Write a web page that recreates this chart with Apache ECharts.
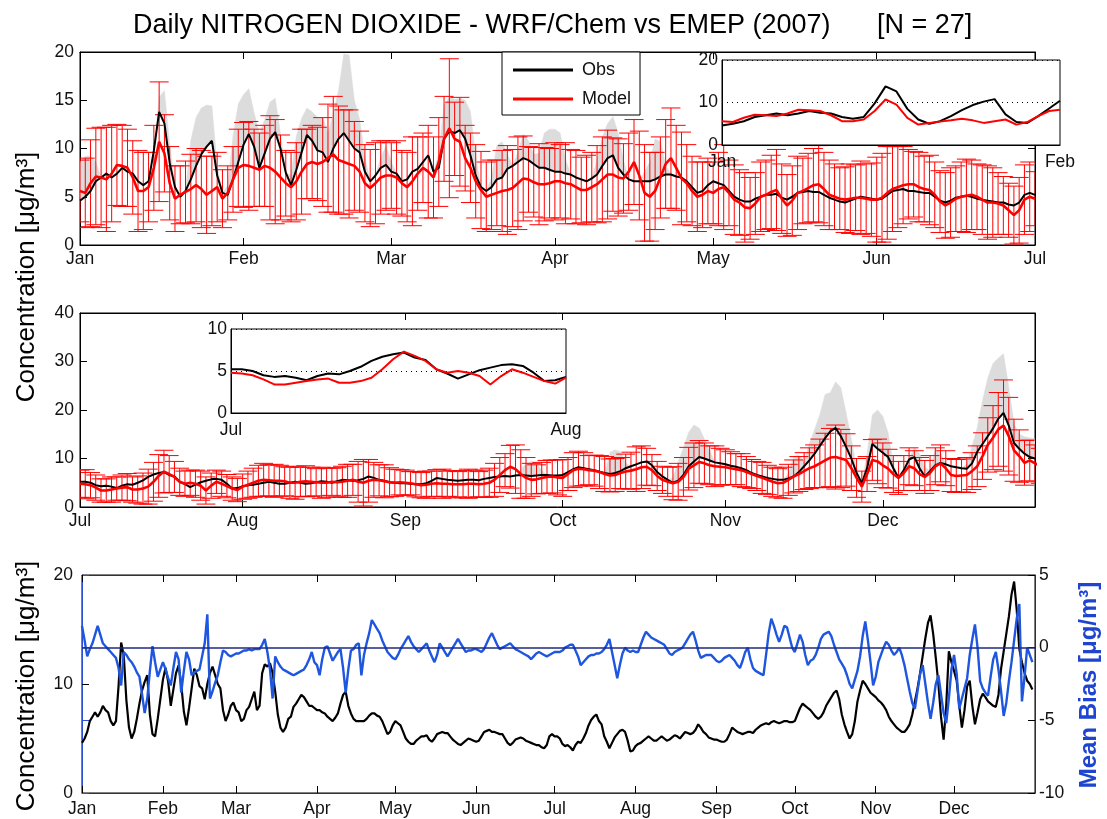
<!DOCTYPE html>
<html><head><meta charset="utf-8">
<script src="https://cdn.jsdelivr.net/npm/echarts@6/dist/echarts.min.js"></script>
<style>html,body{margin:0;padding:0;background:#fff}#c{width:1107px;height:819px}</style>
</head><body><div id="c"></div>
<script>
const FONT = "'Liberation Sans', Arial, Helvetica, sans-serif";

// ---- daily observed mean NO2 (Jan 1 .. Dec 31, 2007) ----
const obs = [
 // Jan
 4.6,5.0,5.6,6.6,7.0,7.4,7.0,7.4,8.0,7.6,7.4,6.6,6.2,6.6,9.8,13.8,12.6,8.5,6.0,5.0,5.6,6.8,8.2,9.4,10.2,10.8,7.2,5.4,5.2,6.8,8.6,
 // Feb
 10.4,11.5,10.2,8.0,9.5,11.0,11.7,10.0,7.5,6.2,7.8,9.6,11.4,10.8,9.8,9.6,8.6,10.0,11.0,11.6,10.8,10.0,9.6,7.6,6.6,7.2,8.0,8.3,
 // Mar
 7.6,7.4,6.6,6.8,7.6,7.9,8.6,9.3,7.6,8.0,11.0,11.8,11.6,11.9,11.0,9.3,7.2,6.0,5.6,6.0,6.8,7.0,7.9,8.2,8.6,9.0,8.8,8.4,8.0,8.0,7.8,
 // Apr
 7.6,7.6,7.4,7.3,7.0,6.8,6.6,6.9,7.3,8.2,9.0,9.3,8.0,7.3,6.8,6.6,6.6,6.6,6.6,6.8,7.1,7.3,7.3,7.1,7.0,6.6,6.0,5.4,5.6,6.2,
 // May
 6.6,6.4,6.2,5.6,5.0,4.7,4.5,4.5,4.8,5.0,5.2,5.2,5.3,4.9,4.7,5.0,5.4,5.5,5.6,5.5,5.5,5.2,4.9,4.7,4.5,4.4,4.6,4.8,5.0,4.9,4.8,
 // Jun
 4.7,4.8,5.2,5.6,5.7,5.8,5.6,5.6,5.5,5.4,5.4,5.0,4.6,4.4,4.6,4.9,5.0,5.1,5.0,4.8,4.7,4.6,4.5,4.4,4.4,4.2,4.1,4.4,5.2,5.4,
 // Jul
 5.2,5.2,5.0,4.5,4.3,4.4,4.2,3.9,4.4,4.7,4.6,5.0,5.5,6.2,6.7,7.0,7.2,6.6,6.3,5.2,4.7,4.1,4.6,5.1,5.4,5.7,5.8,5.6,4.8,3.8,3.9,
 // Aug
 4.3,4.5,4.6,4.8,5.0,5.2,5.0,4.8,4.8,5.0,5.2,5.0,4.8,4.9,5.1,5.3,5.2,5.0,5.3,5.6,5.5,5.4,5.5,5.8,6.3,6.0,5.6,5.4,5.1,5.0,4.9,
 // Sep
 4.9,4.8,4.7,4.7,4.9,5.4,6.0,5.8,5.6,5.5,5.4,5.5,5.6,5.6,5.5,5.8,6.0,6.2,6.3,6.4,6.3,6.5,6.6,6.5,6.4,6.5,6.6,6.6,6.5,6.5,
 // Oct
 6.6,7.2,7.8,8.2,8.0,7.8,7.6,7.3,7.0,6.8,7.0,7.4,8.0,8.4,8.8,9.2,9.4,8.6,7.2,6.3,5.6,5.0,5.4,6.6,8.4,9.4,10.3,10.0,9.6,9.2,9.0,
 // Nov
 8.8,8.5,8.3,8.0,7.6,7.0,6.6,6.3,6.0,5.8,5.6,5.6,5.9,6.3,7.2,8.4,9.6,11.0,12.6,14.2,15.6,16.3,14.6,12.4,10.0,7.0,4.9,8.0,13.0,12.0,
 // Dec
 11.2,10.3,8.0,6.0,7.6,9.8,10.3,8.0,6.3,7.4,8.6,9.1,8.8,8.4,8.2,8.0,7.9,9.0,11.4,13.0,14.6,16.2,18.2,19.4,16.8,13.2,12.0,11.0,10.3,10.0,9.5
];

// ---- daily modelled mean NO2 ----
const model = [
 // Jan
 5.6,5.4,6.4,7.1,7.0,6.8,7.4,8.3,8.2,8.0,7.0,5.6,5.6,6.0,8.0,10.7,9.5,6.4,4.8,5.2,5.5,5.8,6.2,5.8,5.2,5.6,6.0,4.8,5.4,6.8,8.0,
 // Feb
 8.3,8.2,8.0,7.8,8.2,8.0,7.6,7.0,6.4,6.0,6.6,7.6,8.4,8.6,8.4,8.6,9.0,9.4,8.8,8.6,8.4,8.2,7.6,6.4,5.9,6.4,7.0,7.2,
 // Mar
 7.2,7.0,6.4,6.0,6.6,7.4,8.0,7.6,7.0,8.6,11.0,12.1,11.0,10.7,9.0,8.0,6.6,5.7,5.0,5.2,5.4,5.6,5.7,5.9,6.4,6.9,6.8,6.5,6.3,6.3,6.4,
 // Apr
 6.6,6.6,6.4,6.3,6.0,5.7,5.7,6.0,6.3,6.8,7.3,7.3,7.0,6.9,7.6,8.6,7.2,5.4,5.0,5.6,7.0,8.4,9.0,8.0,6.9,6.4,5.6,5.0,5.2,5.6,
 // May
 5.4,5.8,6.0,5.4,4.7,4.4,3.9,3.8,4.3,5.0,5.2,5.5,5.7,4.8,4.1,4.6,5.4,5.6,5.9,6.2,6.3,5.8,5.2,5.0,4.8,4.7,4.8,4.9,4.9,4.8,4.7,
 // Jun
 4.7,4.9,5.4,5.8,6.0,6.2,6.3,6.3,6.0,5.8,5.7,5.2,4.5,4.1,4.4,4.8,5.0,5.1,5.2,5.0,4.7,4.4,4.4,4.3,4.1,3.6,3.1,3.6,4.7,5.0,
 // Jul
 4.8,4.7,4.5,4.0,3.4,3.4,3.6,3.8,4.0,4.1,3.6,3.6,3.8,4.2,5.2,6.4,7.3,6.8,6.2,5.2,4.8,5.0,4.8,4.4,3.4,4.4,5.2,4.8,4.3,3.8,3.5,
 // Aug
 4.2,4.6,5.0,5.4,5.6,5.5,5.4,5.4,5.3,5.0,5.0,5.2,5.3,5.2,5.1,5.0,5.0,5.2,5.1,5.2,5.4,5.6,5.2,5.0,5.4,5.6,5.5,5.3,5.1,5.0,5.1,
 // Sep
 5.0,4.9,4.7,4.5,4.6,4.8,4.9,4.8,4.8,4.7,4.7,4.7,4.8,4.8,4.7,4.8,5.0,5.6,6.6,7.6,8.3,7.8,6.8,6.0,5.6,5.7,6.0,6.2,6.3,6.1,
 // Oct
 6.0,6.8,7.6,7.9,7.8,7.6,7.5,7.2,6.8,6.5,6.6,7.0,7.3,7.5,7.8,8.2,8.3,7.6,6.4,5.6,5.2,4.9,5.2,6.2,7.9,8.6,9.3,9.0,8.6,8.4,8.3,
 // Nov
 8.2,8.0,7.8,7.6,7.2,6.8,6.4,6.0,5.6,5.2,4.9,5.0,5.6,6.3,6.8,7.4,8.0,8.4,9.0,9.6,10.2,10.3,10.0,9.7,8.0,6.0,4.2,6.8,9.7,9.4,
 // Dec
 8.6,7.9,6.8,6.0,7.0,8.4,8.0,6.8,6.2,7.0,8.4,9.0,8.0,6.6,6.4,6.5,6.6,7.4,8.4,10.5,12.8,14.3,16.0,16.8,14.6,11.7,10.5,9.1,9.6,9.0,8.5
];

// ---- daily spread of the model across stations (error bar half-length) ----
const modelSpread = [
 3.2,3.6,4.5,5.0,5.2,5.4,5.0,4.2,4.2,4.0, 3.8,4.2,4.0,3.6,4.4,6.2,4.0,3.8,3.4,3.0,
 3.2,3.6,3.8,4.0,4.0,3.6,3.6,3.0,2.8,3.4, 4.0,4.4,4.6,4.0,3.8,4.2,5.4,5.4,4.4,3.4,
 3.6,4.0,4.4,3.6,3.8,3.8,4.6,5.6,6.0,5.6, 5.4,5.6,4.6,4.2,4.0,4.0,4.2,3.8,3.6,3.4,
 3.8,3.4,3.6,4.6,3.8,3.6,4.8,4.2,4.6,4.4, 7.2,3.8,4.6,3.4,3.6,3.8,4.0,3.6,3.6,3.4,
 4.2,4.6,4.0,4.8,4.4,3.4,3.6,4.2,3.8,3.6, 4.0,3.8,4.2,3.6,3.8,3.4,3.6,3.6,4.0,4.4,
 4.6,3.8,4.0,3.6,4.0,4.4,4.6,5.0,4.6,4.0, 4.2,4.6,5.2,4.4,4.8,4.0,3.6,3.6,3.4,3.4,
 3.2,3.8,4.4,3.4,3.6,3.4,3.6,3.2,3.2,3.6, 3.6,3.8,4.2,3.6,3.2,3.6,3.8,3.4,3.6,3.8,
 4.0,3.8,3.6,3.4,3.2,3.4,3.6,3.4,3.8,3.6, 3.8,4.4,4.6,4.8,4.4,4.2,4.0,3.6,3.4,3.6,
 3.4,3.6,3.4,3.2,3.4,3.6,3.4,3.6,3.8,3.6, 3.4,3.6,3.8,3.6,3.2,3.0,2.8,3.0,3.4,3.6,
 3.6,
 // from Jul 1
 2.8,3.0,2.6,2.6,2.4,2.4,2.6,2.4,2.6,2.8, 2.6,2.8,3.2,3.6,4.0,4.4,4.4,3.8,3.2,2.8,
 2.6,2.6,2.8,3.0,2.8,2.6,2.4,2.6,2.4,2.4, 2.4,2.6,2.8,3.0,3.2,3.4,3.2,3.4,3.2,3.0,
 3.2,3.4,3.0,3.2,3.0,2.8,3.2,3.0,2.8,3.0, 3.2,3.4,3.2,4.2,4.8,4.4,3.6,3.2,3.4,3.0,
 2.8,2.6,2.6,2.4,2.6,2.6,2.8,2.6,2.8,3.0, 2.6,2.8,2.6,2.8,3.0,2.8,2.6,2.8,3.0,3.4,
 3.6,3.4,4.4,5.0,5.0,4.2,3.4,3.0,3.2,3.4, 3.4,3.6,3.8,3.4,3.6,3.6,3.4,3.0,3.2,3.4,
 3.6,3.4,3.4,3.2,3.6,3.8,4.6,4.4,3.8,3.2, 3.0,2.8,3.0,3.4,3.8,4.0,4.4,4.6,4.4,4.2,
 4.0,4.2,3.8,3.6,3.4,3.2,3.4,3.2,3.0,3.0, 3.2,3.0,3.0,3.0,3.2,3.2,3.4,3.6,3.8,4.2,
 4.4,5.0,5.6,6.0,6.6,6.0,5.4,4.6,4.0,3.2, 3.6,4.2,4.6,4.6,4.0,3.8,3.4,3.6,3.8,3.6,
 3.4,3.4,3.6,3.8,3.8,3.6,3.4,3.4,3.4,3.6, 3.8,4.2,4.8,5.6,6.6,7.6,9.4,8.0,6.4,5.4,
 4.6,4.2,3.8,3.6
];

// ---- daily height of the grey observed envelope above the observed mean ----
const obsSpread = [
 4.0,4.2,3.6,2.0,0,0,0,0,0,0, 0,0,0,0,0,1.5,3.4,2.0,0,0,
 0,4.0,5.0,4.8,4.3,3.6,1.0,0,1.0,4.5, 6.0,5.2,4.7,3.5,3.5,3.5,3.8,3.5,1.5,0,
 1.0,3.5,3.5,2.8,3.0,3.4,3.6,3.0,3.6,5.0, 8.2,8.9,5.0,3.4,1.5,0,0,1.0,2.0,1.0,
 0,0,0,0,0,0,0,0,1.5,3.5, 3.5,3.5,3.3,4.0,4.5,2.0,0,0,1.0,3.5,
 3.7,1.5,0,1.0,2.5,2.0,1.0,1.5,3.6,4.2, 4.4,4.0,1.5,0,0,0,0,0,1.5,3.0,
 3.6,4.0,3.6,1.5,0,0,0,1.0,2.0,4.2, 3.6,1.0,0,0,0,0,0,0,0,0,
 0,0,0,0,0,0,0,0,0,0, 0,0,0,0,0,0,0,0,0,0,
 0,0,0,0,0,0,0,0,0,0, 0,0,0,0,0,0,0,0,0,0,
 0,0,0,0,0,0,0,0,0,0, 0,0,0,0,0,0,0,0,0,0,
 0,
 // from Jul 1
 0,0,0,0,0,0,0,0,0,0, 0,0,0,0,0,0,0,0,0,0,
 0,0,0,0,0,0,0,0,0,0, 0,0,0,0,0,0,0,0,0,0,
 0,0,0,0,0,0,0,0,0,0, 0,0,0,0,0,0,0,0,0,0,
 0,0,0,0,0,0,0,0,0,0, 0,0,0,0,0,0,0,0,0,0,
 0,0,0,0,1.0,2.5,3.0,2.5,1.0,0, 0,0,0,0,0,0,0,0,0,0,
 0,4.5,4.8,4.0,1.0,0,0,0,0,0, 0,0,0,1.0,4.0,5.5,7.0,7.5,6.0,4.0,
 2.0,0,0,0,0,0,0,0,0,0, 0,0,0,0,0,1.0,4.0,3.5,1.0,3.5,
 5.0,6.5,9.0,8.0,9.5,10.0,7.0,4.0,1.0,0, 3.0,6.0,8.0,7.5,5.0,1.0,0,0,0,2.0,
 3.0,2.0,0,3.5,2.0,0,0,0,0,1.0, 3.5,5.0,9.0,12.0,13.4,12.5,12.2,8.0,4.0,3.0,
 3.5,4.0,4.0,3.5
];

// ---- daily mean bias (right axis of the bottom panel) ----
const bias = [
 1.5,0.5,-0.6,-0.1,0.3,0.9,1.5,0.9,0.3,0.1, -0.1,-0.3,-0.5,-0.7,-1.4,-2.6,-0.3,-0.5,-0.8,-1.0,
 -1.3,-1.7,-2.0,-3.2,-4.5,-3.5,-1.6,0.1,-1.0,-2.0, -1.5,-1.0,-1.5,-2.1,-2.6,-1.4,-0.3,-0.8,-3.1,-1.6,
 -0.3,-0.8,-1.9,-1.7,-1.6,-1.5,-0.6,0.3,2.3,-3.5, -3.0,-2.4,-1.9,-1.0,-0.2,-0.3,-0.5,-0.6,-0.5,-0.4,
 -0.4,-0.3,-0.2,-0.2,-0.1,-0.2,-0.1,-0.1,-0.1,0.2, 0.6,-0.3,-1.5,-3.5,-0.6,-1.0,-1.3,-1.5,-1.6,-1.7,
 -1.8,-1.9,-1.8,-1.7,-1.6,-1.5,-1.2,-0.8,-0.3,-1.0, -1.2,-1.9,-0.8,0.0,0.1,-0.4,-0.9,-0.6,-0.3,-0.1,
 -1.4,-3.1,-1.5,-0.2,-0.1,0.2,0.3,-1.9,-0.5,0.3, 1.0,1.9,1.6,1.3,1.0,0.5,0.1,-0.3,-0.5,-0.7,
 -0.8,-0.5,-0.1,0.2,0.5,0.8,0.4,0.1,-0.1,-0.3, -0.1,0.1,0.3,-0.2,-0.6,-1.0,-0.5,0.3,0.0,-0.3,
 -0.6,-0.3,0.0,0.3,0.6,0.3,0.0,-0.3,-0.2,-0.2, -0.1,-0.1,-0.2,-0.3,-0.1,0.3,0.7,1.0,0.6,0.2,
 -0.1,0.0,0.1,0.2,0.3,0.1,-0.1,-0.2,-0.3,-0.4, -0.5,-0.6,-0.8,-0.6,-0.4,-0.3,-0.4,-0.5,-0.6,-0.5,
 -0.4,-0.3,-0.3,-0.3,-0.2,0.0,0.1,0.2,0.2,-0.2, -0.6,-1.2,-1.0,-0.8,-0.6,-0.5,-0.5,-0.4,-0.4,-0.3,
 -0.1,0.2,0.6,-0.3,-1.2,-2.1,-1.2,-0.4,0.0,-0.2, -0.3,-0.2,-0.3,-0.3,0.2,0.7,1.1,0.9,0.7,0.6,
 0.5,0.4,0.3,0.2,-0.1,-0.4,-0.5,-0.3,-0.2,-0.1, 0.0,0.3,0.6,0.9,1.1,0.5,-0.2,-0.7,-0.6,-0.5,
 -0.5,-0.5,-0.7,-0.9,-1.0,-0.9,-0.7,-0.6,-0.5,-0.7, -0.9,-1.2,-1.4,-0.9,-0.3,0.0,-0.8,-1.4,-1.6,-1.7,
 -1.8,-1.9,-0.5,1.0,2.0,1.5,0.9,0.4,0.9,1.5, 1.4,0.7,0.0,-0.3,0.3,0.9,0.4,-0.5,-1.2,-0.9,
 -0.8,-0.5,0.0,0.6,0.9,1.0,1.1,0.8,0.2,-0.3, -0.8,-1.1,-1.4,-1.9,-2.5,-2.8,-2.2,-1.6,-0.6,0.8,
 1.8,0.5,-1.0,-2.6,-2.0,-1.0,-0.5,0.0,0.4,0.2, -0.2,-0.5,-0.3,0.0,-0.5,-1.2,-2.1,-3.0,-3.8,-4.2,
 -3.0,-1.8,-1.2,-2.5,-3.8,-4.9,-3.8,-2.5,-1.9,-3.2, -4.5,-5.2,-3.5,-1.5,-0.5,-1.8,-4.2,-3.5,-2.8,-2.1,
 -0.5,0.6,1.6,0.0,-2.3,-2.8,-3.1,-3.3,-2.0,-0.8, -0.3,-1.5,-3.0,-4.7,-3.8,-2.3,-1.0,0.5,2.0,3.0,
 -3.7,-2.0,0.0,-0.5,-1.0
];

// ---- tick positions (day offsets) and labels ----
const topMonthDays = [0,31,59,90,120,151,181];
const topMonthLabels = ['Jan','Feb','Mar','Apr','May','Jun','Jul'];
const midMonthDays = [0,31,62,92,123,153];
const midMonthLabels = ['Jul','Aug','Sep','Oct','Nov','Dec'];
const yearMonthDays = [0,31,59,90,120,151,181,212,243,273,304,334];
const yearMonthLabels = ['Jan','Feb','Mar','Apr','May','Jun','Jul','Aug','Sep','Oct','Nov','Dec'];
const topInsetDays = [0,31];
const topInsetLabels = ['Jan','Feb'];
const midInsetDays = [0,31];
const midInsetLabels = ['Jul','Aug'];

// ---------------- building ----------------
const JUL1 = 181;
const CAP = 1.8; // half-width of error bar caps, in days
function pairs(arr, start, count) {
  const out = [];
  for (let i = 0; i < count && start + i < arr.length; i++) out.push([i, arr[start + i]]);
  return out;
}
function barData(start, count) {
  const out = [];
  for (let i = 0; i < count && start + i < model.length; i++) {
    const m = model[start + i], s = modelSpread[start + i];
    out.push([i, m - s, m + s]);
  }
  return out;
}
function bandPts(start, count) {
  const hi = [], lo = [];
  for (let i = 0; i < count && start + i < obs.length; i++) {
    const o = obs[start + i], s = obsSpread[start + i];
    hi.push([i, o + s]); lo.push([i, o]);
  }
  return {hi, lo};
}
const topBand = bandPts(0, 182), midBand = bandPts(JUL1, 184);

function bandRender(band) {
  return function (params, api) {
    const pts = [];
    band.hi.forEach(p => pts.push(api.coord(p)));
    for (let i = band.lo.length - 1; i >= 0; i--) pts.push(api.coord(band.lo[i]));
    return {type: 'polygon', shape: {points: pts}, style: {fill: '#dcdcdc', stroke: '#dcdcdc', lineWidth: 0.5}};
  };
}
function errRender(params, api) {
  const cs = params.coordSys;
  const cx = v => Math.max(cs.x, Math.min(cs.x + cs.width, v));
  const x = api.value(0), lo = api.value(1), hi = api.value(2);
  const a = api.coord([x, lo]), b = api.coord([x, hi]);
  const l = api.coord([x - CAP, lo])[0], r = api.coord([x + CAP, lo])[0];
  const st = {stroke: '#ff0000', lineWidth: 1};
  return {type: 'group', children: [
    {type: 'line', shape: {x1: a[0], y1: a[1], x2: b[0], y2: b[1]}, style: st},
    {type: 'line', shape: {x1: cx(l), y1: a[1], x2: cx(r), y2: a[1]}, style: st},
    {type: 'line', shape: {x1: cx(l), y1: b[1], x2: cx(r), y2: b[1]}, style: st}
  ]};
}

const LBL = {color: '#111', fontSize: 17.5, fontFamily: FONT};
function xAx(grid, max, days, labels, opt) {
  opt = opt || {};
  const mirror = !!opt.mirror;
  return {
    type: 'value', gridIndex: grid, min: 0, max: max, position: mirror ? 'top' : 'bottom', z: opt.z || 0,
    axisLine: {show: true, onZero: false, lineStyle: {color: opt.lineColor || '#000', width: 1}},
    axisTick: {show: !opt.noTick, inside: true, length: 7, customValues: days, lineStyle: {color: '#000'}},
    axisLabel: mirror ? {show: false} : Object.assign({show: true, customValues: days, margin: opt.margin || 5,
      formatter: v => { const k = days.indexOf(Math.round(v)); return k >= 0 ? labels[k] : ''; }}, LBL),
    splitLine: {show: false}
  };
}
function yAx(grid, min, max, interval, opt) {
  opt = opt || {};
  const right = !!opt.right;
  return {
    type: 'value', gridIndex: grid, min: min, max: max, interval: interval, position: right ? 'right' : 'left', z: opt.z || 0,
    axisLine: {show: !opt.noLine, onZero: false, lineStyle: {color: opt.lineColor || '#000', width: opt.lineWidth || 1}},
    axisTick: {show: !opt.noTick, inside: true, length: 7, lineStyle: {color: opt.tickColor || '#000'}},
    axisLabel: opt.noLabel ? {show: false} : Object.assign({show: true, margin: opt.margin || 6}, LBL),
    splitLine: opt.dotted ? {show: true, lineStyle: {color: '#000', type: [1, 4], width: 1}} : {show: false}
  };
}

const grids = [
  {left: 80, top: 52, width: 955, height: 193},
  {left: 80, top: 313, width: 955, height: 194},
  {left: 82, top: 575, width: 953, height: 218},
  {left: 722, top: 60, width: 338, height: 85, z: 10},
  {left: 231, top: 329, width: 335, height: 84, z: 10}
].map(g => Object.assign({show: true, borderColor: '#000', borderWidth: 1, backgroundColor: g.z ? '#fff' : 'transparent', outerBoundsMode: 'none'}, g));

const xAxes = [
  xAx(0, 181, topMonthDays, topMonthLabels),
  xAx(0, 181, topMonthDays, topMonthLabels, {mirror: true}),
  xAx(1, 182, midMonthDays, midMonthLabels),
  xAx(1, 182, midMonthDays, midMonthLabels, {mirror: true}),
  xAx(2, 365, yearMonthDays, yearMonthLabels, {lineColor: '#333', margin: 7}),
  xAx(2, 365, yearMonthDays, yearMonthLabels, {mirror: true, lineColor: '#333'}),
  xAx(3, 31, topInsetDays, topInsetLabels, {noTick: true, z: 11, margin: 8}),
  xAx(4, 31, midInsetDays, midInsetLabels, {noTick: true, z: 11, margin: 8})
];
const yAxes = [
  yAx(0, 0, 20, 5),
  yAx(0, 0, 20, 5, {right: true, noLabel: true}),
  yAx(1, 0, 40, 10),
  yAx(1, 0, 40, 10, {right: true, noLabel: true}),
  yAx(2, 0, 20, 10, {lineColor: '#2b50d8', margin: 9}),
  yAx(2, -10, 5, 5, {right: true, lineColor: '#1e2a80', margin: 4}),
  yAx(3, 0, 20, 10, {noTick: true, dotted: true, z: 11, margin: 4}),
  yAx(4, 0, 10, 5, {noTick: true, dotted: true, z: 11, margin: 4}),
  yAx(2, -10, 5, 5, {noLabel: true, noLine: true, tickColor: '#2b50d8'})
];

function line(name, data, xi, yi, color, width, z) {
  return {type: 'line', name: name, data: data, xAxisIndex: xi, yAxisIndex: yi, showSymbol: false, symbol: 'none',
    clip: true, z: z, lineStyle: {color: color, width: width}, itemStyle: {color: color}, silent: true};
}

const series = [
  // top panel
  {type: 'custom', xAxisIndex: 0, yAxisIndex: 0, data: [[0, 0]], renderItem: bandRender(topBand), clip: true, z: 1, silent: true},
  {type: 'custom', xAxisIndex: 0, yAxisIndex: 0, data: barData(0, 182), renderItem: errRender, clip: true, z: 2, silent: true},
  line('Obs', pairs(obs, 0, 182), 0, 0, '#000', 2, 3),
  line('Model', pairs(model, 0, 182), 0, 0, '#ff0000', 2.6, 4),
  // middle panel
  {type: 'custom', xAxisIndex: 2, yAxisIndex: 2, data: [[0, 0]], renderItem: bandRender(midBand), clip: true, z: 1, silent: true},
  {type: 'custom', xAxisIndex: 2, yAxisIndex: 2, data: barData(JUL1, 184), renderItem: errRender, clip: true, z: 2, silent: true},
  line('Obs', pairs(obs, JUL1, 184), 2, 2, '#000', 2, 3),
  line('Model', pairs(model, JUL1, 184), 2, 2, '#ff0000', 2.6, 4),
  // bottom panel
  line('obsYear', pairs(obs, 0, 365), 4, 4, '#000', 2.2, 3),
  Object.assign(line('bias', pairs(bias, 0, 365), 4, 5, '#1f56e0', 2.4, 4), {
    markLine: {silent: true, symbol: 'none', label: {show: false}, animation: false,
      lineStyle: {color: '#1e2a80', type: 'solid', width: 1.5}, data: [{yAxis: 0}]}
  }),
  // insets
  line('Obs', pairs(obs, 0, 32), 6, 6, '#000', 2, 12),
  line('Model', pairs(model, 0, 32), 6, 6, '#ff0000', 2, 13),
  line('Obs', pairs(obs, JUL1, 32), 7, 7, '#000', 2, 12),
  line('Model', pairs(model, JUL1, 32), 7, 7, '#ff0000', 2, 13)
];

const chart = echarts.init(document.getElementById('c'), null, {renderer: 'canvas'});
chart.setOption({
  animation: false,
  backgroundColor: '#fff',
  textStyle: {fontFamily: FONT},
  grid: grids,
  xAxis: xAxes,
  yAxis: yAxes,
  legend: {
    data: ['Obs', 'Model'], left: 502, top: 52, orient: 'vertical', z: 20,
    backgroundColor: '#fff', borderColor: '#000', borderWidth: 1, borderRadius: 0,
    padding: [9, 9, 7, 11], itemGap: 11, itemWidth: 60, itemHeight: 3, icon: 'rect',
    selectedMode: false, textStyle: {fontSize: 18, color: '#111', fontFamily: FONT, padding: [0, 0, 0, 4]}
  },
  graphic: [
    {type: 'text', x: 133, y: 26, z: 100, style: {text: 'Daily NITROGEN DIOXIDE - WRF/Chem vs EMEP (2007)', fontSize: 27, fontFamily: FONT, fill: '#000', align: 'left', verticalAlign: 'middle'}},
    {type: 'text', x: 877, y: 26, z: 100, style: {text: '[N = 27]', fontSize: 27, fontFamily: FONT, fill: '#000', align: 'left', verticalAlign: 'middle'}},
    {type: 'text', x: 27, y: 277, rotation: Math.PI / 2, z: 100, style: {text: 'Concentration [μg/m³]', fontSize: 26, fontFamily: FONT, fill: '#000', align: 'center', verticalAlign: 'middle'}},
    {type: 'text', x: 27, y: 686, rotation: Math.PI / 2, z: 100, style: {text: 'Concentration [μg/m³]', fontSize: 26, fontFamily: FONT, fill: '#000', align: 'center', verticalAlign: 'middle'}},
    {type: 'text', x: 1089, y: 685, rotation: Math.PI / 2, z: 100, style: {text: 'Mean Bias [μg/m³]', fontSize: 24, fontWeight: 'bold', fontFamily: FONT, fill: '#1f45d0', align: 'center', verticalAlign: 'middle'}}
  ],
  series: series
});
</script>
</body></html>
